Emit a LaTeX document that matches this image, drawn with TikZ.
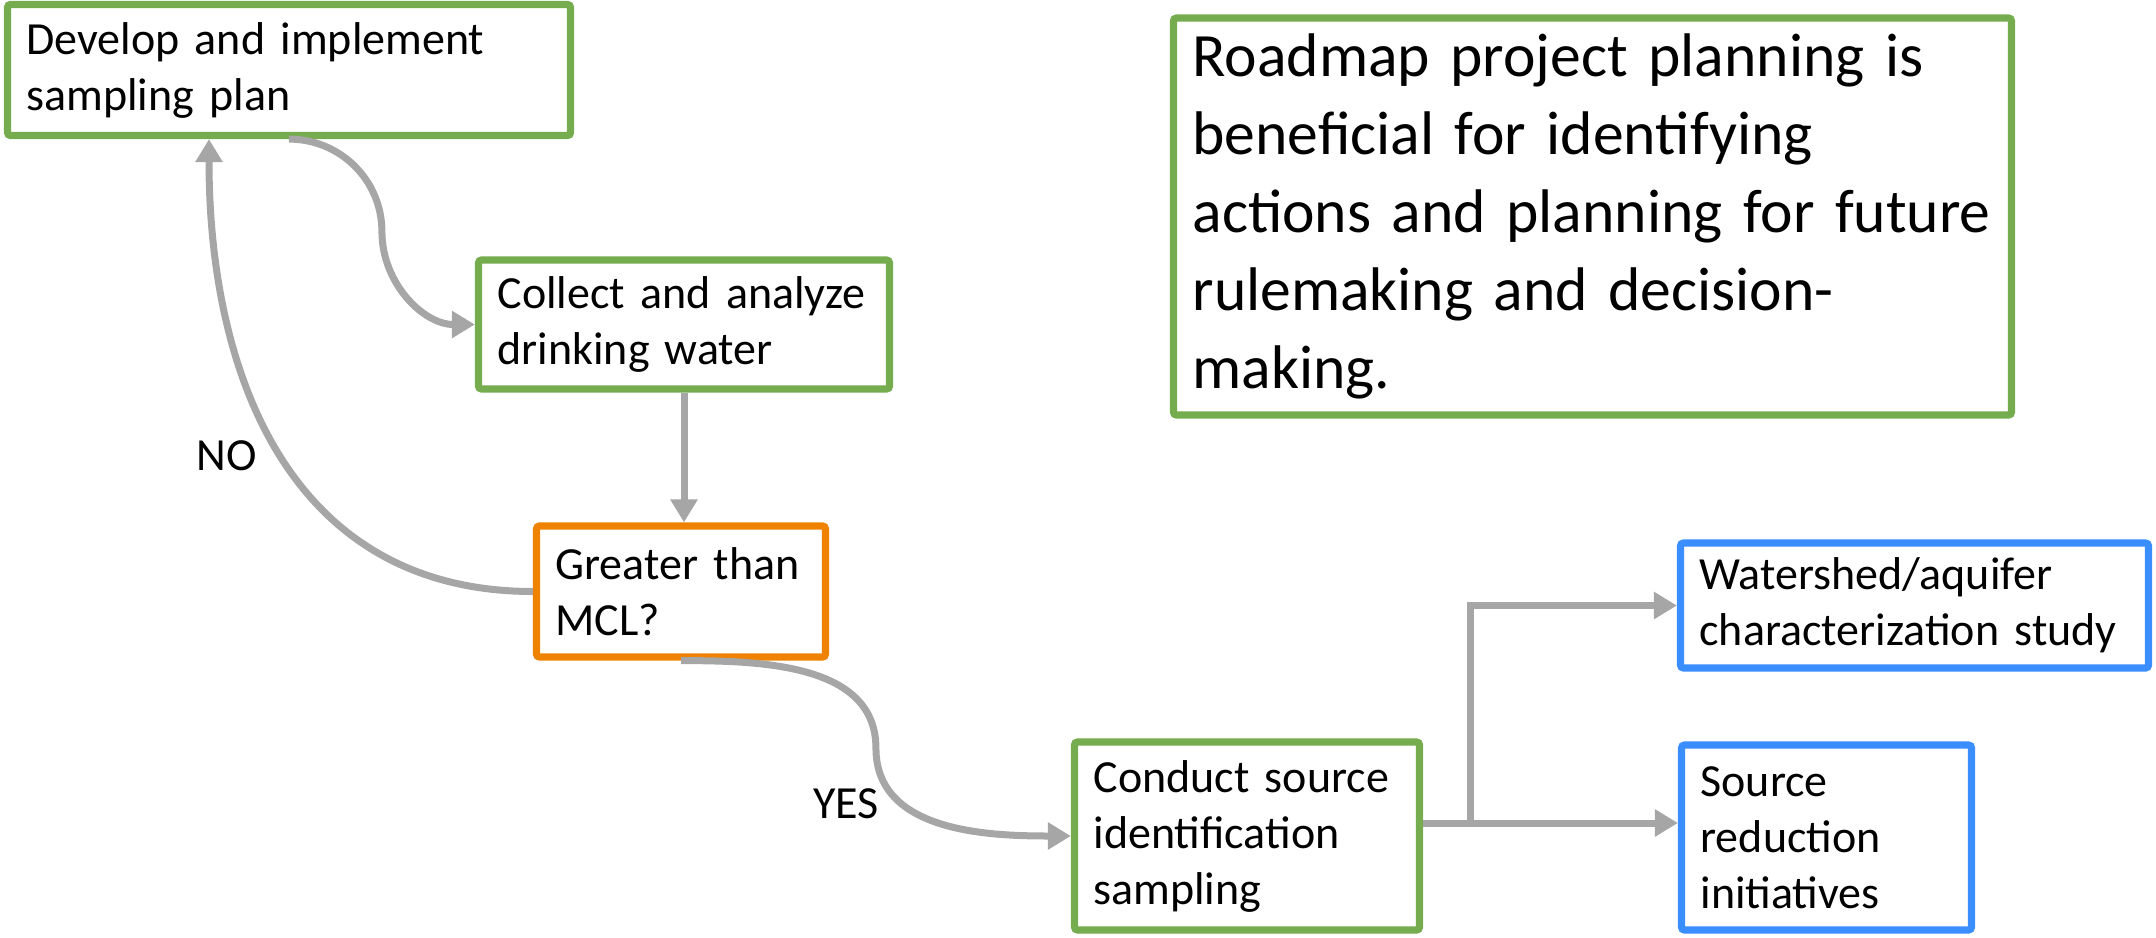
\documentclass[tikz,border=0pt]{standalone}
\usepackage{fontspec}
\setmainfont{Carlito}
\usetikzlibrary{calc}
\usetikzlibrary{arrows.meta}

\definecolor{boxgreen}{HTML}{74AC4E}
\definecolor{boxorange}{HTML}{EF8200}
\definecolor{boxblue}{HTML}{3A8EFF}
\definecolor{flowgray}{HTML}{A6A6A6}

\tikzset{
  box/.style={draw, line width=3.6pt, rounded corners=1.5pt, fill=white, align=left,
    inner xsep=9.5pt, inner ysep=0pt, font=\fontsize{23}{28}\selectfont},
  greenbox/.style={box, draw=boxgreen},
  orangebox/.style={box, draw=boxorange},
  bluebox/.style={box, draw=boxblue},
  flow/.style={flowgray, line width=3.5pt, -{Triangle[length=11.5pt,width=13pt]}},
  answer/.style={font=\fontsize{23}{28}\selectfont},
}

\begin{document}
\begin{tikzpicture}[x=0.5pt, y=-0.5pt]
\useasboundingbox (0,0) rectangle (2156,937);

% the sampling loop
\node[greenbox, text width=262.5pt, minimum height=65.5pt] (plan) at (289,70)
  {Develop and implement\\sampling plan};
\node[greenbox, text width=186.5pt, minimum height=64.5pt] (collect) at (684,324.5)
  {Collect and analyze\\drinking water};
\node[orangebox, text width=125.5pt, minimum height=65.5pt] (mcl) at (681,591.5)
  {Greater than\\MCL?};

% follow-up actions
\node[greenbox, text width=153.5pt, minimum height=94pt] (sourceid) at (1247,836)
  {Conduct source\\identification\\sampling};
\node[bluebox, text width=215pt, minimum height=62.5pt] (study) at (1914.5,605.5)
  {Watershed/aquifer\\\mbox{characterization study}};
\node[bluebox, text width=126pt, minimum height=92.5pt] (reduction) at (1826.5,837.5)
  {Source\\reduction\\initiatives};

\node[greenbox, text width=400pt, minimum height=198.5pt,
  font=\fontsize{30.8}{39}\selectfont] (roadmap) at (1592.5,216.5)
  {Roadmap project planning is\\beneficial for identifying\\\mbox{actions and planning for future}\\rulemaking and decision-\\making.};

% connectors
\coordinate (bend1) at ($(plan.south)!0.5!(collect.west)$);
\draw[flow] (plan.south) to[out=0,in=90] (bend1) to[out=-90,in=180] (collect.west);
\draw[flow] (collect.south) -- (collect.south |- mcl.north);
\draw[flow] (mcl.west) to[out=180,in=-90,looseness=1.1] ([xshift=-40pt]plan.south);
\coordinate (bend2) at ($(mcl.south)!0.5!(sourceid.west)$);
\draw[flow] (mcl.south) to[out=0,in=90] (bend2) to[out=-90,in=180] (sourceid.west);

\coordinate (fork) at (1470,823);
\draw[flow] (sourceid.east |- fork) -- (fork -| reduction.west);
\draw[flow] (fork) |- (study.west);

\node[answer] (no) at (227,456) {NO};
\node[answer] (yes) at (846,804) {YES};

\end{tikzpicture}
\end{document}
